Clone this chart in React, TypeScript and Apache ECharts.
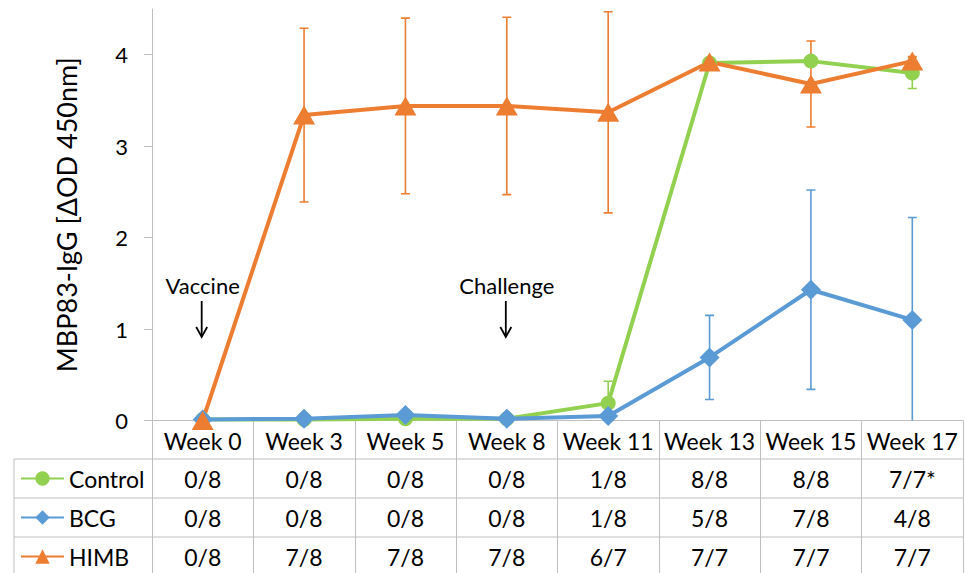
import React, { useEffect, useRef } from "react";
import * as echarts from "echarts";

const weeks = ["Week 0", "Week 3", "Week 5", "Week 8", "Week 11", "Week 13", "Week 15", "Week 17"];
const seriesNames = ["Control", "BCG", "HIMB"];
const seriesColors = ["#92D050", "#5B9BD5", "#ED7D31"];

const controlMean = [0.01, 0.01, 0.02, 0.02, 0.19, 3.91, 3.93, 3.80];
const controlSd = [0.01, 0.01, 0.01, 0.01, 0.24, 0.02, 0.03, 0.17];
const bcgMean = [0.01, 0.02, 0.06, 0.02, 0.05, 0.69, 1.43, 1.10];
const bcgSd = [0.01, 0.01, 0.02, 0.01, 0.02, 0.46, 1.09, 1.12];
const himbMean = [0.0, 3.34, 3.44, 3.44, 3.37, 3.92, 3.68, 3.93];
const himbSd = [0.0, 0.95, 0.96, 0.97, 1.1, 0.03, 0.47, 0.05];

const controlPositive = ["0/8", "0/8", "0/8", "0/8", "1/8", "8/8", "8/8", "7/7*"];
const bcgPositive = ["0/8", "0/8", "0/8", "0/8", "1/8", "5/8", "7/8", "4/8"];
const himbPositive = ["0/8", "7/8", "7/8", "7/8", "6/7", "7/7", "7/7", "7/7"];

const yTicks = [0, 1, 2, 3, 4];
const yTitle = "MBP83-IgG [\u0394OD 450nm]";
const annotations = [
  { label: "Vaccine", week: "Week 0" },
  { label: "Challenge", week: "Week 8" },
];

const FONT = "Lato";
const GRAY = "#BFBFBF";
const W = 966;
const H = 573;
const GRID_LEFT = 152;
const GRID_RIGHT = 3;
const GRID_TOP = 9;
const GRID_BOTTOM = 152.5;
const HEADER_H = 38.5;
const ROW_H = 39;
const TABLE_LEFT = 14;
const TFS = 23;

export default function App() {
  const ref = useRef<HTMLDivElement>(null);
  useEffect(() => {
    document.body.style.margin = "0";
    const chart = echarts.init(ref.current!, null, { renderer: "svg" });
    const means = [controlMean, bcgMean, himbMean];
    const sds = [controlSd, bcgSd, himbSd];
    const rows = [controlPositive, bcgPositive, himbPositive];
    const symbols = ["circle", "diamond", "triangle"];
    const symbolSizes: any[] = [15, [20, 20], [22, 19]];

    const errSeries = seriesNames.map((name, k) => ({
      type: "custom",
      name: name + " SD",
      z: 2,
      clip: true,
      silent: true,
      data: means[k].map((m, i) => [i, m - sds[k][i], m + sds[k][i]]),
      encode: { x: 0, y: [1, 2] },
      renderItem: (params: any, api: any) => {
        const x = api.value(0);
        const lo = api.coord([x, api.value(1)]);
        const hi = api.coord([x, api.value(2)]);
        const hw = 4.5;
        const st = { stroke: seriesColors[k], lineWidth: 1.6 };
        return {
          type: "group",
          children: [
            { type: "line", shape: { x1: lo[0], y1: lo[1], x2: hi[0], y2: hi[1] }, style: st },
            { type: "line", shape: { x1: lo[0] - hw, y1: lo[1], x2: lo[0] + hw, y2: lo[1] }, style: st },
            { type: "line", shape: { x1: hi[0] - hw, y1: hi[1], x2: hi[0] + hw, y2: hi[1] }, style: st },
          ],
        };
      },
    }));

    const lineSeries = seriesNames.map((name, k) => ({
      type: "line",
      name,
      data: means[k],
      z: 3,
      symbol: symbols[k],
      symbolSize: symbolSizes[k],
      showAllSymbol: true,
      lineStyle: { width: 4, color: seriesColors[k] },
      itemStyle: { color: seriesColors[k] },
    }));

    const tableY0 = H - GRID_BOTTOM;
    const hLines = [1, 2, 3].map((r) => tableY0 + HEADER_H + ROW_H * (r - 1));
    const tableGraphics: any[] = hLines.map((y) => ({
      type: "line",
      shape: { x1: TABLE_LEFT, y1: y, x2: W - GRID_RIGHT, y2: y },
      style: { stroke: GRAY, lineWidth: 1 },
      silent: true,
    }));
    tableGraphics.push({
      type: "line",
      shape: { x1: TABLE_LEFT, y1: hLines[0], x2: TABLE_LEFT, y2: H },
      style: { stroke: GRAY, lineWidth: 1 },
      silent: true,
    });

    const legends = seriesNames.map((name, k) => ({
      data: [name],
      orient: "horizontal",
      left: 20,
      top: hLines[k],
      padding: 0,
      itemGap: 0,
      itemWidth: 43,
      itemHeight: 18,
      selectedMode: false,
      textStyle: { fontSize: TFS, lineHeight: 39, color: "#000", fontFamily: FONT },
    }));

    const option: any = {
      animation: false,
      textStyle: { fontFamily: FONT },
      grid: { left: GRID_LEFT, right: GRID_RIGHT, top: GRID_TOP, bottom: GRID_BOTTOM, containLabel: false },
      legend: legends,
      xAxis: [
        {
          type: "category",
          data: weeks,
          boundaryGap: true,
          axisLine: { lineStyle: { color: GRAY, width: 1 } },
          axisTick: { show: true, length: GRID_BOTTOM, lineStyle: { color: GRAY, width: 1 } },
          axisLabel: { interval: 0, margin: 9, fontSize: TFS, color: "#000", fontFamily: FONT },
          splitLine: { show: false },
        },
        ...rows.map((row, k) => ({
          type: "category",
          data: weeks,
          position: "bottom",
          offset: HEADER_H + ROW_H * k,
          boundaryGap: true,
          axisLine: { show: false },
          axisTick: { show: false },
          splitLine: { show: false },
          axisLabel: {
            interval: 0,
            margin: 8,
            fontSize: TFS,
            color: "#000",
            fontFamily: FONT,
            formatter: (_v: string, i: number) => row[i],
          },
        })),
      ],
      yAxis: {
        type: "value",
        min: 0,
        max: 4.5,
        interval: 1,
        axisLine: { show: true, lineStyle: { color: GRAY, width: 1 } },
        axisTick: { show: true, length: 8, customValues: yTicks, lineStyle: { color: GRAY } },
        axisLabel: { customValues: yTicks, fontSize: 22, margin: 24, color: "#000", fontFamily: FONT },
        splitLine: { show: false },
        name: yTitle,
        nameLocation: "middle",
        nameRotate: 90,
        nameGap: 72,
        nameTextStyle: { fontSize: 27, color: "#000", fontFamily: FONT },
      },
      series: [...errSeries, ...lineSeries],
      graphic: tableGraphics,
    };
    chart.setOption(option);

    const annGraphics: any[] = [];
    annotations.forEach((a) => {
      const p = chart.convertToPixel({ gridIndex: 0 }, [a.week, 0]) as number[];
      const cx = p[0];
      const ax = cx - 1;
      annGraphics.push({
        type: "text",
        x: cx,
        y: 285,
        style: { text: a.label, fontSize: 22, fontFamily: FONT, fill: "#000", align: "center", verticalAlign: "middle" },
        silent: true,
      });
      annGraphics.push({
        type: "line",
        shape: { x1: ax, y1: 301, x2: ax, y2: 336 },
        style: { stroke: "#000", lineWidth: 1.8 },
        silent: true,
      });
      annGraphics.push({
        type: "polyline",
        shape: { points: [[ax - 5.5, 327], [ax, 337], [ax + 5.5, 327]] },
        style: { stroke: "#000", lineWidth: 1.8, fill: null },
        silent: true,
      });
    });
    chart.setOption({ graphic: [...tableGraphics, ...annGraphics] });

    return () => chart.dispose();
  }, []);
  return <div ref={ref} style={{ position: "absolute", left: 0, top: 0, width: W, height: H }} />;
}
